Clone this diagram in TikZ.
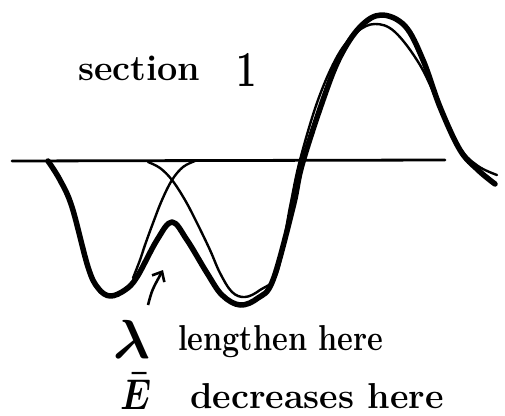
\documentclass[tikz,border=0pt]{standalone}
\usetikzlibrary{arrows.meta}
\begin{document}
\begin{tikzpicture}[x=1pt,y=-1pt,
  thickcurve/.style={line width=5.5pt, line cap=round, line join=round},
  thincurve/.style={line width=2.4pt, line cap=round, line join=round},
  axisline/.style={line width=2.8pt, line cap=round},
  lbl/.style={font=\fontsize{36}{40}\selectfont\bfseries, inner sep=0pt, anchor=base west}]
\useasboundingbox (0,0) rectangle (505,415);
% axis
\coordinate (axL) at (12,161);
\coordinate (axR) at (445,160);
\draw[axisline] (axL) -- (axR);
% thick wave
\draw[thickcurve] plot[smooth, tension=0.6] coordinates {
 (48,161) (60,180) (72,207) (88,267) (98,288) (110,296) (125,290) (137,277)
 (157,240) (172,222) (187,240) (207,273) (222,295) (240,305) (258,298) (273,280)
 (293,207) (302,165) (323,100) (340,57) (360,27) (381,15) (405,26) (423,60)
 (440,107) (460,150) (478,170) (495,184)};
% thin wave (right part)
\draw[thincurve] plot[smooth, tension=0.6] coordinates {
 (148,162) (160,168) (172,180) (185,200) (197,223) (210,250) (220,273) (232,292)
 (245,297) (260,290) (277,273) (290,207) (300,160) (318,100) (338,55) (357,32)
 (375,24) (395,32) (420,65) (440,107) (460,148) (478,166) (497,175)};
% thin wave (left part)
\draw[thincurve] plot[smooth, tension=0.6] coordinates {
 (195,161) (183,167) (172,180) (162,200) (153,223) (145,245) (140,260) (133,278)};
% arrow
\coordinate (arS) at (148,305);
\coordinate (arE) at (163,270);
\draw[line width=2.6pt, -{Straight Barb[length=8pt,width=14pt]}] (arS) .. controls (152,290) .. (arE);
% labels
\node[lbl] (sec) at (78,80) {section};
\node[lbl] (one) at (236,86) {\scalebox{1}[1.4]{1}};
\node[lbl] (lam) at (113,358) {\scalebox{5.5}{\fontsize{10}{12}\selectfont\boldmath$\lambda$}};
\node[lbl] (len) at (178,350) {\scalebox{0.85}[1]{lengthen here}};
\node[lbl] (ebar) at (120,409) {\scalebox{3.6}[4.3]{\fontsize{10}{12}\selectfont\boldmath$\bar{E}$}};
\node[lbl] (dec) at (190,408) {decreases here};
\end{tikzpicture}
\end{document}
